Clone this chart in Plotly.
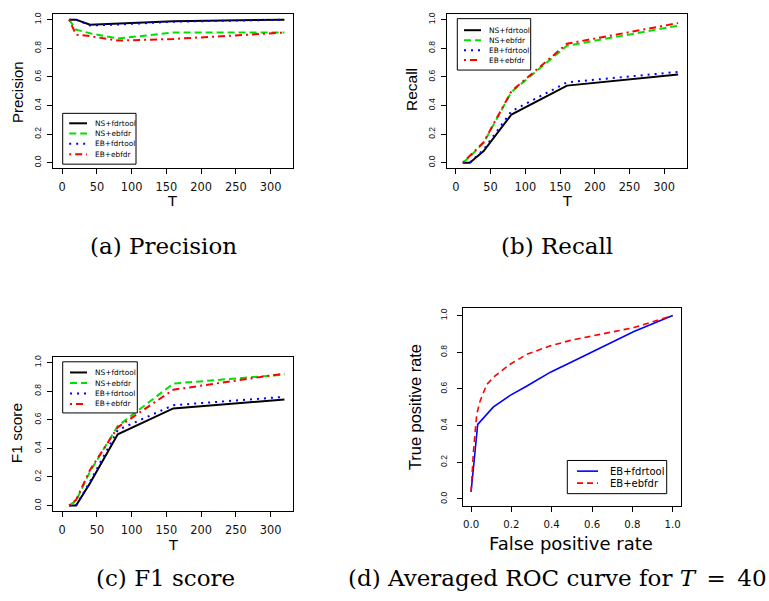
import plotly.graph_objects as go

# ---- data -------------------------------------------------------------
T = [10, 20, 40, 80, 160, 320]

precision_ns_fdrtool = [1.0, 1.0, 0.965, 0.974, 0.989, 1.0]
precision_ns_ebfdr = [1.0, 0.93, 0.905, 0.868, 0.91, 0.91]
precision_eb_fdrtool = [1.0, 1.0, 0.96, 0.966, 0.986, 1.0]
precision_eb_ebfdr = [1.0, 0.895, 0.885, 0.854, 0.865, 0.91]

recall_ns_fdrtool = [0.0, 0.0, 0.081, 0.337, 0.539, 0.616]
recall_ns_ebfdr = [0.0, 0.042, 0.139, 0.495, 0.818, 0.958]
recall_eb_fdrtool = [0.0, 0.0, 0.093, 0.36, 0.562, 0.635]
recall_eb_ebfdr = [0.0, 0.046, 0.144, 0.5, 0.832, 0.976]

f1_ns_fdrtool = [0.0, 0.0, 0.156, 0.498, 0.679, 0.742]
f1_ns_ebfdr = [0.0, 0.033, 0.237, 0.556, 0.853, 0.916]
f1_eb_fdrtool = [0.0, 0.0, 0.167, 0.528, 0.702, 0.76]
f1_eb_ebfdr = [0.0, 0.04, 0.249, 0.547, 0.81, 0.923]

roc_fpr_fdrtool = [0.0, 0.033, 0.111, 0.194, 0.277, 0.396, 0.509, 0.609, 0.808, 1.0]
roc_tpr_fdrtool = [0.038, 0.407, 0.502, 0.565, 0.616, 0.693, 0.753, 0.807, 0.913, 1.0]
roc_fpr_ebfdr = [0.0, 0.012, 0.028, 0.045, 0.078, 0.119, 0.194, 0.277, 0.393, 0.493, 0.642, 0.808, 1.0]
roc_tpr_ebfdr = [0.038, 0.262, 0.462, 0.535, 0.625, 0.671, 0.735, 0.789, 0.835, 0.865, 0.898, 0.935, 1.0]

method_names = ["NS+fdrtool", "NS+ebfdr", "EB+fdrtool", "EB+ebfdr"]
roc_names = ["EB+fdrtool", "EB+ebfdr"]
t_ticks = [0, 50, 100, 150, 200, 250, 300]
unit_ticks = [0.0, 0.2, 0.4, 0.6, 0.8, 1.0]

# ---- styling ----------------------------------------------------------
W, H = 769, 601
STYLES = [
    dict(color="#000000", width=2, dash="solid"),
    dict(color="#00E000", width=2, dash="7px,4px"),
    dict(color="#0000FF", width=2, dash="2px,5px"),
    dict(color="#FF0000", width=2, dash="2px,4px,7px,4px"),
]
ROC_STYLES = [
    dict(color="#0000FF", width=1.6, dash="solid"),
    dict(color="#FF0000", width=1.6, dash="6px,4px"),
]
SANS_H = "DejaVu Sans"        # horizontal text
SANS_V = "Liberation Sans"    # rotated text
SERIF = "DejaVu Serif"


def fx(p):
    return p / W


def fy(p):
    return 1 - p / H


# plot boxes in pixels: left, right, top, bottom
BOX_A = (53.3, 293.3, 12.0, 167.0)
BOX_B = (447.0, 687.0, 12.0, 167.0)
BOX_C = (53.3, 293.3, 356.0, 511.0)
BOX_D = (463.0, 680.7, 307.3, 506.0)

fig = go.Figure()
layout = dict(
    width=W, height=H, margin=dict(l=0, r=0, t=0, b=0),
    paper_bgcolor="white", plot_bgcolor="white", showlegend=False,
    shapes=[], annotations=[],
)


def axis_common(domain, rng, vals, fmt, font, angle=0, standoff=None):
    d = dict(
        domain=domain, range=rng, tickvals=vals, tickformat=fmt,
        showline=True, mirror=True, linecolor="black", linewidth=1,
        ticks="outside", ticklen=5, tickwidth=1, tickcolor="black",
        showgrid=False, zeroline=False, tickangle=angle,
        tickfont=dict(family=font[0], size=font[1], color="#111111"),
        fixedrange=True,
    )
    if standoff is not None:
        d["ticklabelstandoff"] = standoff
    return d


def add_panel(idx, box, x_range, x_vals, x_fmt, xfont, yfont, ystandoff, xstandoff):
    l, r, t, b = box
    sfx = "" if idx == 1 else str(idx)
    layout["xaxis" + sfx] = dict(
        axis_common([fx(l), fx(r)], x_range, x_vals, x_fmt, xfont, 0, xstandoff),
        anchor="y" + sfx)
    layout["yaxis" + sfx] = dict(
        axis_common([fy(b), fy(t)], [-0.04, 1.04], unit_ticks, ".1f", yfont, -90, ystandoff),
        anchor="x" + sfx)
    return "x" + sfx, "y" + sfx


def add_lines(xref, yref, xs_list, ys_list, names, styles):
    for xs, ys, name, st in zip(xs_list, ys_list, names, styles):
        fig.add_trace(go.Scatter(
            x=xs, y=ys, mode="lines", name=name, xaxis=xref, yaxis=yref,
            line=dict(color=st["color"], width=st["width"], dash=st["dash"]),
            hoverinfo="skip"))


def add_legend(box, rows, line_x, text_x, size, names, styles):
    l, r, t, b = box
    layout["shapes"].append(dict(
        type="rect", xref="paper", yref="paper",
        x0=fx(l), x1=fx(r), y0=fy(b), y1=fy(t),
        line=dict(color="black", width=1), fillcolor="white", layer="above"))
    for yy, name, st in zip(rows, names, styles):
        layout["shapes"].append(dict(
            type="line", xref="paper", yref="paper",
            x0=fx(line_x[0]), x1=fx(line_x[1]), y0=fy(yy), y1=fy(yy),
            line=dict(color=st["color"], width=st["width"], dash=st["dash"]),
            layer="above"))
        layout["annotations"].append(dict(
            text=name, xref="paper", yref="paper", x=fx(text_x), y=fy(yy),
            xanchor="left", yanchor="middle", showarrow=False,
            font=dict(family=SANS_H, size=size, color="black")))


def add_text(text, x, y, size, family, angle=0):
    layout["annotations"].append(dict(
        text=text, xref="paper", yref="paper", x=fx(x), y=fy(y),
        xanchor="center", yanchor="middle", showarrow=False, textangle=angle,
        font=dict(family=family, size=size, color="black")))


T_RANGE = [-12.8, 332.8]
UNIT_RANGE = [-0.04, 1.04]

# (a) precision
xa, ya = add_panel(1, BOX_A, T_RANGE, t_ticks, "d", (SANS_H, 11.4), (SANS_V, 8.5), 3, 3)
add_lines(xa, ya, [T] * 4,
          [precision_ns_fdrtool, precision_ns_ebfdr, precision_eb_fdrtool, precision_eb_ebfdr],
          method_names, STYLES)
add_legend((62.7, 136.0, 111.7, 162.7), [121.7, 132.0, 142.3, 152.7],
           (69.2, 87.0), 92.7, 7.4, method_names, STYLES)
add_text("Precision", 17.3, 90.0, 15, SANS_V, -90)
add_text("T", 172.0, 200.0, 14.5, SANS_H)

# (b) recall
xb, yb = add_panel(2, BOX_B, T_RANGE, t_ticks, "d", (SANS_H, 11.4), (SANS_V, 8.5), 3, 3)
add_lines(xb, yb, [T] * 4,
          [recall_ns_fdrtool, recall_ns_ebfdr, recall_eb_fdrtool, recall_eb_ebfdr],
          method_names, STYLES)
add_legend((457.3, 530.7, 16.7, 68.3), [28.3, 38.3, 48.3, 58.3],
           (464.0, 481.0), 487.3, 7.4, method_names, STYLES)
add_text("Recall", 411.3, 88.0, 15.5, SANS_V, -90)
add_text("T", 566.7, 200.0, 14.5, SANS_H)

# (c) F1 score
xc, yc = add_panel(3, BOX_C, T_RANGE, t_ticks, "d", (SANS_H, 11.4), (SANS_V, 8.5), 3, 3)
add_lines(xc, yc, [T] * 4,
          [f1_ns_fdrtool, f1_ns_ebfdr, f1_eb_fdrtool, f1_eb_ebfdr],
          method_names, STYLES)
add_legend((62.7, 137.3, 361.0, 412.3), [371.7, 382.3, 392.7, 403.3],
           (70.0, 87.0), 93.3, 7.4, method_names, STYLES)
add_text("F1 score", 16.7, 433.0, 15.5, SANS_V, -90)
add_text("T", 172.7, 545.0, 14.5, SANS_H)

# (d) averaged ROC curve
xd, yd = add_panel(4, BOX_D, UNIT_RANGE, unit_ticks, ".1f", (SANS_H, 10.2), (SANS_V, 8.5), 7, 3)
add_lines(xd, yd, [roc_fpr_fdrtool, roc_fpr_ebfdr], [roc_tpr_fdrtool, roc_tpr_ebfdr],
          roc_names, ROC_STYLES)
add_legend((567.3, 666.7, 460.0, 493.3), [470.7, 482.7],
           (577.0, 598.0), 608.3, 10.0, roc_names, ROC_STYLES)
add_text("True positive rate", 415.7, 406.7, 16.4, SANS_V, -90)
add_text("False positive rate", 570.7, 543.3, 18, SANS_H)

# sub-figure captions
add_text("(a) Precision", 163.5, 245.0, 23, SERIF)
add_text("(b) Recall", 557.0, 245.0, 23, SERIF)
add_text("(c) F1 score", 165.0, 578.0, 23, SERIF)
add_text("(d) Averaged ROC curve for <i>T</i>\u2002=\u200240", 557.0, 578.0, 23, SERIF)

fig.update_layout(**layout)
fig.write_html("out.html")
